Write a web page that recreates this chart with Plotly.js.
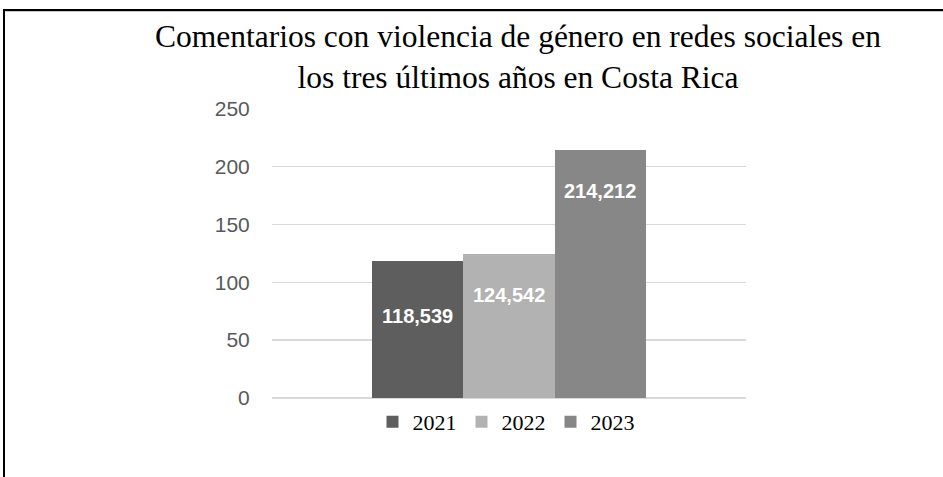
<!DOCTYPE html>
<html>
<head>
<meta charset="utf-8">
<script src="https://cdn.plot.ly/plotly-3.0.1.min.js"></script>
<style>
  html, body { margin: 0; padding: 0; background: #fff; overflow: hidden; }
  #frame { position: absolute; left: 3px; top: 9px; width: 960px; height: 500px;
           border-top: 2px solid #000; border-left: 2px solid #000; box-sizing: border-box; }
  #frame2 { position: absolute; left: 5px; top: 11px; width: 960px; height: 1px; background: #c8c8c8; }
  #chart { position: absolute; left: 0; top: 0; width: 943px; height: 477px; }
</style>
</head>
<body>
<div id="frame"></div>
<div id="frame2"></div>
<div id="chart"></div>
<script>
// Data
const years = ["2021", "2022", "2023"];
const values = [118.539, 124.542, 214.212];
const labels = ["118,539", "124,542", "214,212"];
const yTicks = [0, 50, 100, 150, 200, 250];

// Styles
const colors = ["#5e5e5e", "#b2b2b2", "#878787"];
const labelShift = [-55, -41, -41];

const traces = years.map((yr, i) => ({
  type: "bar",
  name: yr,
  x: [yr],
  y: [values[i]],
  marker: { color: colors[i], line: { width: 0 } },
  hoverinfo: "skip"
}));

const annotations = years.map((yr, i) => ({
  x: years.indexOf(yr), y: values[i], xref: "x", yref: "y",
  text: labels[i], showarrow: false, yshift: labelShift[i],
  font: { family: "Liberation Sans, Arial, sans-serif", size: 20, color: "#ffffff", weight: 700 }
}));

const layout = {
  width: 943, height: 477,
  paper_bgcolor: "rgba(0,0,0,0)", plot_bgcolor: "rgba(0,0,0,0)",
  margin: { l: 272, r: 197, t: 108.3, b: 79 },
  title: {
    text: "Comentarios con violencia de género en redes sociales en<br>los tres últimos años en Costa Rica",
    font: { family: "Liberation Serif, Times New Roman, serif", size: 31.5, color: "#000" },
    x: 518 / 943, xanchor: "center", xref: "container",
    y: 1 - 47 / 477, yanchor: "top", yref: "container"
  },
  barmode: "overlay",
  bargap: 0,
  xaxis: {
    type: "category",
    categoryorder: "array", categoryarray: years,
    range: [-1.596, 3.596],
    showticklabels: false, showgrid: false, zeroline: false, showline: false, ticks: "",
    fixedrange: true
  },
  yaxis: {
    range: [0, 250.6],
    tickvals: yTicks,
    ticktext: yTicks.map(String),
    showgrid: true, gridcolor: "#d9d9d9", gridwidth: 1.5,
    zeroline: true, zerolinecolor: "#d9d9d9", zerolinewidth: 1.5, showline: false,
    ticks: "outside", ticklen: 17, tickcolor: "rgba(0,0,0,0)",
    tickfont: { family: "Liberation Sans, Arial, sans-serif", size: 21, color: "#595959" },
    fixedrange: true
  },
  showlegend: true,
  legend: {
    orientation: "h", x: (506 - 272) / 474, xanchor: "center", y: -0.01, yanchor: "top",
    font: { family: "Liberation Serif, Times New Roman, serif", size: 22, color: "#000" },
    itemwidth: 30,
    traceorder: "normal", bgcolor: "rgba(0,0,0,0)"
  },
  annotations: annotations
};

Plotly.newPlot("chart", traces, layout, { displayModeBar: false, staticPlot: true });
</script>
</body>
</html>
